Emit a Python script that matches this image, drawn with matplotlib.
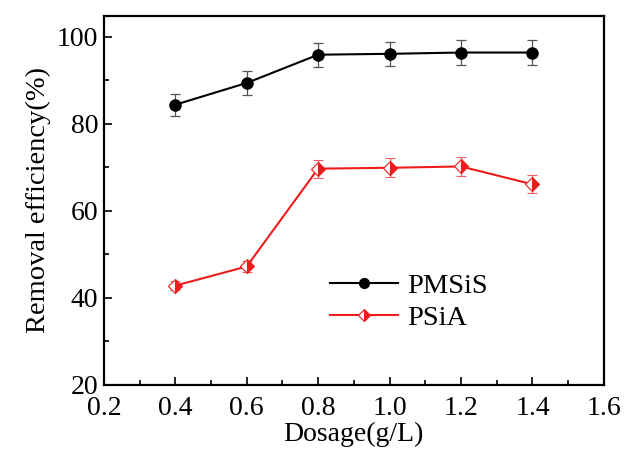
import matplotlib.pyplot as plt
from matplotlib.lines import Line2D

plt.rcParams['font.family'] = ['Liberation Serif', 'DejaVu Serif']

dosage = [0.4, 0.6, 0.8, 1.0, 1.2, 1.4]
pmsis = [84.4, 89.4, 95.9, 96.1, 96.4, 96.4]
pmsis_err = [2.5, 2.7, 2.8, 2.8, 2.9, 2.9]
psia = [42.8, 47.2, 69.7, 69.9, 70.2, 66.1]
psia_err = [1.0, 1.2, 2.1, 2.2, 2.1, 2.1]

red = '#ee1c1c'

fig = plt.figure(figsize=(6.37, 4.57), dpi=100)
ax = fig.add_axes([0.163, 0.158, 0.785, 0.807])

ax.errorbar(dosage, pmsis, yerr=pmsis_err, color='black', marker='o',
            markersize=8, lw=1.5, ecolor='#555555', elinewidth=0.9,
            capsize=3.5, capthick=0.9)
ax.errorbar(dosage, psia, yerr=psia_err, color=red, marker='D',
            markersize=7.5, fillstyle='right', markerfacecoloralt='white',
            markeredgewidth=0.8, lw=1.5, ecolor='#f06060', elinewidth=0.9,
            capsize=3.5, capthick=0.9)

ax.set_xlim(0.2, 1.6)
ax.set_ylim(20, 104.8)
ax.set_xticks([0.2, 0.4, 0.6, 0.8, 1.0, 1.2, 1.4, 1.6])
ax.set_xticklabels(['0.2', '0.4', '0.6', '0.8', '1.0', '1.2', '1.4', '1.6'])
ax.set_yticks([20, 40, 60, 80, 100])
ax.set_xticks([0.3, 0.5, 0.7, 0.9, 1.1, 1.3, 1.5], minor=True)
ax.set_yticks([30, 50, 70, 90], minor=True)
ax.tick_params(which='both', direction='in', labelsize=20, width=1.2)
ax.tick_params(which='major', length=6)
ax.tick_params(axis='x', which='major', pad=8)
ax.tick_params(axis='y', which='major', pad=4)
ax.tick_params(which='minor', length=3.5)
for s in ax.spines.values():
    s.set_linewidth(1.6)

ax.set_xlabel('Dosage(g/L)', fontsize=20, labelpad=1)
ax.set_ylabel('Removal efficiency(%)', fontsize=20.5, labelpad=4)

handles = [
    Line2D([], [], color='black', marker='o', markersize=7, lw=1.5),
    Line2D([], [], color=red, marker='D', markersize=6.5, fillstyle='right',
           markerfacecoloralt='white', markeredgewidth=0.8, lw=1.5),
]
ax.legend(handles, ['PMSiS', 'PSiA'], loc='center',
          bbox_to_anchor=(0.61, 0.225), frameon=False, fontsize=20.5,
          handlelength=2.4, handletextpad=0.3, labelspacing=0.2)

fig.savefig('out.png', dpi=100)
